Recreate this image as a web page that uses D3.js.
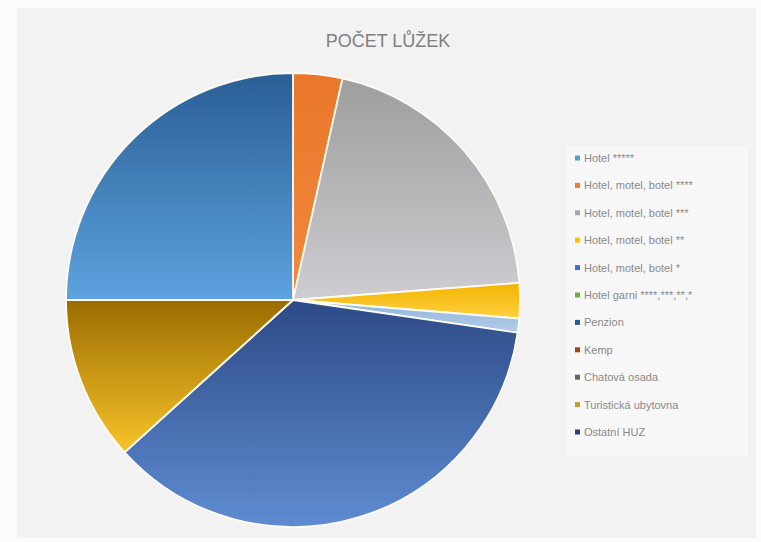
<!DOCTYPE html>
<html>
<head>
<meta charset="utf-8">
<script src="https://cdn.jsdelivr.net/npm/d3@7"></script>
<style>
  html, body { margin: 0; padding: 0; background: #ffffff; }
  svg { display: block; }
</style>
</head>
<body>
<svg id="chart" width="761" height="542"></svg>
<script>
const title = "POČET LŮŽEK";
const categories = [
  "Hotel *****",
  "Hotel, motel, botel ****",
  "Hotel, motel, botel ***",
  "Hotel, motel, botel **",
  "Hotel, motel, botel *",
  "Hotel garni ****,***,**,*",
  "Penzion",
  "Kemp",
  "Chatová osada",
  "Turistická ubytovna",
  "Ostatní HUZ"
];
// share of beds, %
const values = [0, 3.5, 20.3, 2.5, 1.0, 0, 36.0, 0, 0, 11.7, 25.0];
const topColors    = ["#3f7fc0", "#e9772b", "#9e9e9e", "#f2b400", "#8fb3dc", "#5c9a3a", "#2d4a86", "#8a3d0b", "#555555", "#9a6c00", "#2a5e95"];
const bottomColors = ["#6aa8e0", "#f08a3f", "#cdcdd2", "#ffd040", "#b4cdea", "#86c264", "#5e8cd1", "#b45a1c", "#7c7c7c", "#f8c42a", "#5da3e0"];
const markerColors = ["#5b9bd5", "#ed7d31", "#a5a5a5", "#ffc000", "#4472c4", "#70ad47", "#255e91", "#9e480e", "#636363", "#bfa030", "#264478"];

const svg = d3.select("#chart");
const W = 761, H = 542;

// backgrounds
svg.append("rect").attr("x", 0).attr("y", 0).attr("width", W).attr("height", H).attr("fill", "#fbfbfb");
svg.append("rect").attr("x", 17).attr("y", 8).attr("width", 739).attr("height", 530).attr("fill", "#f2f2f2");

// title
svg.append("text")
  .attr("x", 388).attr("y", 47)
  .attr("text-anchor", "middle")
  .attr("font-family", "'Liberation Sans', 'Open Sans', sans-serif")
  .attr("font-size", 18)
  .attr("fill", "#808080")
  .text(title);

// gradients
const defs = svg.append("defs");
categories.forEach((c, i) => {
  const g = defs.append("linearGradient")
    .attr("id", "grad" + i)
    .attr("x1", 0).attr("y1", 0).attr("x2", 0).attr("y2", 1);
  g.append("stop").attr("offset", "0%").attr("stop-color", topColors[i]);
  g.append("stop").attr("offset", "100%").attr("stop-color", bottomColors[i]);
});

const cx = 293, cy = 300, r = 227;
const pie = d3.pie().sort(null).value(d => d.v).startAngle(0).endAngle(2 * Math.PI);
const arcs = pie(categories.map((c, i) => ({ c, v: values[i], i })));
const arc = d3.arc().innerRadius(0).outerRadius(r);

const g = svg.append("g").attr("transform", `translate(${cx},${cy})`);
g.selectAll("path")
  .data(arcs.filter(a => a.data.v > 0))
  .join("path")
  .attr("d", arc)
  .attr("fill", d => `url(#grad${d.data.i})`)
  .attr("stroke", "#fdfbf2")
  .attr("stroke-width", 1.8)
  .attr("stroke-linejoin", "round");

// legend
const lx = 566, ly = 146, lw = 182, lh = 310;
svg.append("rect").attr("x", lx).attr("y", ly).attr("width", lw).attr("height", lh).attr("fill", "#f7f7f7");

const legend = svg.append("g");
const step = 27.4;
const items = legend.selectAll("g.item")
  .data(categories)
  .join("g")
  .attr("class", "item")
  .attr("transform", (d, i) => `translate(${lx + 9},${ly + 12 + i * step})`);
items.append("rect")
  .attr("x", 0).attr("y", -2.5)
  .attr("width", 5).attr("height", 5)
  .attr("fill", (d, i) => markerColors[i]);
items.append("text")
  .attr("x", 9).attr("y", 4)
  .attr("font-family", "'Liberation Sans', 'Open Sans', sans-serif")
  .attr("font-size", 11)
  .attr("fill", "#8a8a8a")
  .text(d => d);
</script>
</body>
</html>
